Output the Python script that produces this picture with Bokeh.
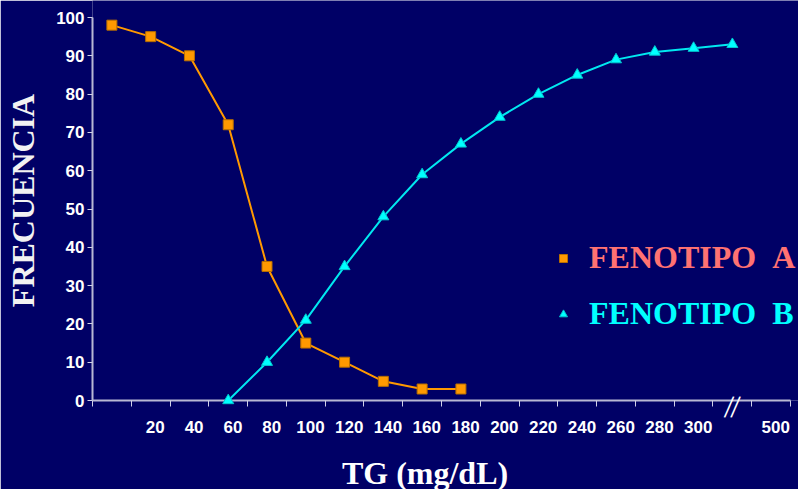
import numpy as np
from bokeh.plotting import figure
from bokeh.models import Range1d, FixedTicker, Legend, LegendItem
from bokeh.embed import file_html
from bokeh.resources import INLINE

nan = float("nan")

# ---- data ----
tg_labels = ["", "20", "40", "60", "80", "100", "120", "140", "160", "180",
             "200", "220", "240", "260", "280", "300", "", "500"]
fenotipo_a = [98, 95, 90, 72, 35, 15, 10, 5, 3, 3,
              nan, nan, nan, nan, nan, nan, nan, nan]
fenotipo_b = [nan, nan, nan, 0, 10, 21, 35, 48, 59, 67,
              74, 80, 85, 89, 91, 92, 93, nan]
y_ticks = [0, 10, 20, 30, 40, 50, 60, 70, 80, 90, 100]
break_index = 16
legend_a = "FENOTIPO\u00a0\u00a0A"
legend_b = "FENOTIPO\u00a0\u00a0B"
x_title = "TG (mg/dL)"
y_title = "FRECUENCIA"

# ---- styling ----
BG = "#000066"
ORANGE = "#FF9900"
CYAN = "#00FFFF"
SALMON = "#FF7272"
AXIS = "#B8B8D4"
TICK = "#D0D0E8"
SANS = "Liberation Sans"
SERIF = "Liberation Serif"

n = len(tg_labels)
x = np.arange(n)
cat_px = 38.78                       # pixel width of one category
frame_w = 798 - 92                   # frame runs to the right edge of the page
x_end = -0.5 + frame_w / cat_px
y_px = 3.83                          # pixels per frequency unit
y_end = 100 + 17 / y_px              # frame reaches the top edge of the page

p = figure(width=798, height=489,
           x_range=Range1d(-0.5, x_end), y_range=Range1d(0, y_end),
           output_backend="svg", toolbar_location=None,
           min_border_left=92, min_border_right=0,
           min_border_top=0, min_border_bottom=89,
           background_fill_color=BG, border_fill_color=BG,
           outline_line_color=None)
p.grid.visible = False

# series A
p.line(x, fenotipo_a, line_color=ORANGE, line_width=2)
sa = p.scatter(x, fenotipo_a, marker="square", size=10, level="overlay",
               fill_color=ORANGE, line_color="#B86E00", line_width=1)
# series B
p.line(x, fenotipo_b, line_color="#00E8F0", line_width=2)
sb = p.scatter(x, fenotipo_b, marker="triangle", size=11, level="overlay",
               fill_color=CYAN, line_color="#00C8D0", line_width=1)

# x axis: labels at category centres, ticks at category boundaries
shift = 0.12
xa = p.xaxis[0]
xa.bounds = (-0.5, n - 0.5)
xa.ticker = FixedTicker(ticks=[float(i) + shift for i in x],
                        minor_ticks=[i - 0.5 for i in range(n + 1)])
xa.major_label_overrides = {float(i) + shift: lab for i, lab in zip(x, tg_labels)}
xa.major_tick_in = 0
xa.major_tick_out = 0
xa.minor_tick_in = 0
xa.minor_tick_out = 6
xa.minor_tick_line_color = TICK
xa.minor_tick_line_width = 1
xa.axis_line_color = AXIS
xa.axis_line_width = 2
xa.major_label_standoff = 14
xa.major_label_text_font = SANS
xa.major_label_text_font_style = "bold"
xa.major_label_text_font_size = "17px"
xa.major_label_text_color = "#FFFFFF"

# y axis
ya = p.yaxis[0]
ya.bounds = (0, 100)
ya.ticker = FixedTicker(ticks=y_ticks, minor_ticks=[])
ya.major_tick_in = 0
ya.major_tick_out = 5
ya.major_tick_line_color = TICK
ya.major_tick_line_width = 1
ya.axis_line_color = AXIS
ya.axis_line_width = 2
ya.major_label_standoff = 3
ya.major_label_text_font = SANS
ya.major_label_text_font_style = "bold"
ya.major_label_text_font_size = "17px"
ya.major_label_text_color = "#FFFFFF"
ya.axis_label = y_title
ya.axis_label_text_font = SERIF
ya.axis_label_text_font_style = "bold"
ya.axis_label_text_font_size = "32px"
ya.axis_label_text_color = "#F2F2F2"
ya.axis_label_standoff = 12

# x title (drawn below the axis, centred under the categories)
p.text(x=[(n - 1) / 2], y=[0], text=[x_title], level="overlay",
       x_offset=-16.5, y_offset=72, text_align="center",
       text_baseline="alphabetic", text_font=SERIF, text_font_style="bold",
       text_font_size="32px", text_color="#FFFFFF")

# axis break mark "//"
p.text(x=[break_index, break_index], y=[0, 0], text=["/", "/"], level="overlay",
       x_offset=[-3.3, 3.3], y_offset=6, angle=-0.08,
       text_align="center", text_baseline="alphabetic", text_font=SANS,
       text_font_size="32px", text_color="#FFFFFF")

# legends
def make_legend(label, rend, color, loc):
    return Legend(items=[LegendItem(label=label, renderers=[rend])], location=loc,
                  padding=0, margin=0, spacing=0, border_line_color=None,
                  background_fill_alpha=0, glyph_width=20, glyph_height=20,
                  label_standoff=16, label_text_font=SERIF,
                  label_text_font_style="bold", label_text_font_size="32px",
                  label_text_color=color)

p.add_layout(make_legend(legend_a, sa, SALMON, (461, 124)))
p.add_layout(make_legend(legend_b, sb, CYAN, (461, 68)))

open("out.html", "w").write(file_html(p, INLINE))
